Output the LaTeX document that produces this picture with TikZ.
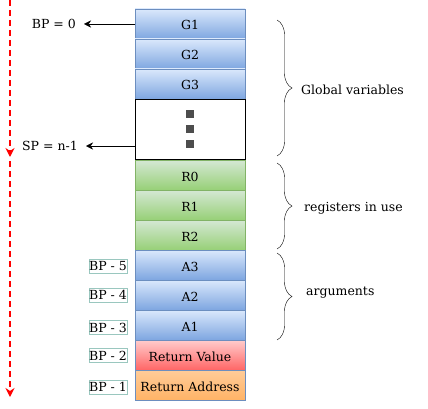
\documentclass[tikz,border=0pt]{standalone}
\usepackage{fontspec}
\setmainfont{DejaVu Serif}
\usepackage{xcolor}
\usetikzlibrary{positioning,arrows.meta,decorations.pathreplacing}
\definecolor{blueTop}{RGB}{218,232,252}
\definecolor{blueBot}{RGB}{126,166,224}
\definecolor{blueLine}{RGB}{108,142,191}
\definecolor{greenTop}{RGB}{213,232,212}
\definecolor{greenBot}{RGB}{151,208,119}
\definecolor{greenLine}{RGB}{130,179,102}
\definecolor{redTop}{RGB}{255,204,204}
\definecolor{redBot}{RGB}{255,102,102}
\definecolor{orangeTop}{RGB}{255,204,153}
\definecolor{orangeBot}{RGB}{255,179,102}
\definecolor{tagLine}{RGB}{154,199,191}
\definecolor{dotGrey}{RGB}{77,77,77}
\tikzset{%
    cell/.style={%
        minimum width=110pt, minimum height=30pt, inner sep=0pt, outer sep=0pt,
        text height=12pt, text depth=0pt,
        draw=blueLine, top color=blueTop, bottom color=blueBot,
        font=\fontsize{12.5}{14}\selectfont
    },
    regCell/.style={cell, draw=greenLine, top color=greenTop, bottom color=greenBot},
    retValCell/.style={cell, top color=redTop, bottom color=redBot},
    retAddrCell/.style={cell, top color=orangeTop, bottom color=orangeBot},
    gapCell/.style={draw=black, fill=white, minimum width=110pt, minimum height=60pt,
        outer sep=0pt},
    dot/.style={fill=dotGrey, minimum size=8pt, inner sep=0pt},
    bpTag/.style={draw=tagLine, minimum width=38pt, minimum height=14pt, inner sep=0pt,
        font=\fontsize{12.5}{14}\selectfont},
    ptrLabel/.style={anchor=east, inner xsep=8pt, inner ysep=2pt,
        font=\fontsize{12.5}{14}\selectfont},
    ptr/.style={-{Stealth[length=7pt,width=7pt]}, thin},
    curly/.style={decorate, decoration={brace, amplitude=15pt, aspect=0.5}},
    sideLabel/.style={anchor=west, inner sep=0pt, font=\fontsize{12.5}{14}\selectfont},
    growLine/.style={red, line width=1.5pt, dash pattern=on 6pt off 4pt,
        -{Stealth[length=9pt,width=9pt]}}
}

\begin{document}
\begin{tikzpicture}[x=1pt,y=-1pt]
    \useasboundingbox (0,0) rectangle (428,409);
    % stack
    \node[cell] (g1) at (190,24) {G1};
    \node[cell, below=0pt of g1] (g2) {G2};
    \node[cell, below=0pt of g2] (g3) {G3};
    \node[gapCell, below=0pt of g3] (dots) {};
    \node[dot] (d2) at (dots.center) {};
    \node[dot, above=7pt of d2] (d1) {};
    \node[dot, below=7pt of d2] (d3) {};
    \node[regCell, below=1pt of dots] (r0) {R0};
    \node[regCell, below=0pt of r0] (r1) {R1};
    \node[regCell, below=0pt of r1] (r2) {R2};
    \node[cell, below=0pt of r2] (a3) {A3};
    \node[cell, below=0pt of a3] (a2) {A2};
    \node[cell, below=0pt of a2] (a1) {A1};
    \node[retValCell, below=0pt of a1] (rv) {Return Value};
    \node[retAddrCell, below=0pt of rv] (ra) {Return Address};
    % pointers
    \node[ptrLabel] (bp) at (84,24) {BP = 0};
    \draw[ptr] (g1.west) -- (bp);
    \node[ptrLabel] (sp) at (86,146) {SP = n-1};
    \draw[ptr] (sp -| dots.west) -- (sp);
    % offsets
    \node[bpTag] (t5) at (108,266) {BP - 5};
    \node[bpTag] (t4) at (108,295) {BP - 4};
    \node[bpTag] (t3) at (108,327.5) {BP - 3};
    \node[bpTag] (t2) at (108,355.5) {BP - 2};
    \node[bpTag] (t1) at (108,387) {BP - 1};
    % growth direction
    \coordinate (runTop) at (10,0);
    \coordinate (runMid) at (10,157);
    \coordinate (runNext) at (10,161);
    \coordinate (runEnd) at (10,397);
    \draw[growLine] (runTop) -- (runMid);
    \draw[growLine] (runNext) -- (runEnd);
    % braces
    \draw[curly] (277,20) -- (277,156);
    \node[sideLabel] (glob) at (301,90) {Global variables};
    \draw[curly] (277,163) -- (277,249);
    \node[sideLabel] (regs) at (304,208) {registers in use};
    \draw[curly] (277,253) -- (277,340);
    \node[sideLabel] (args) at (306,293) {arguments};
\end{tikzpicture}
\end{document}
